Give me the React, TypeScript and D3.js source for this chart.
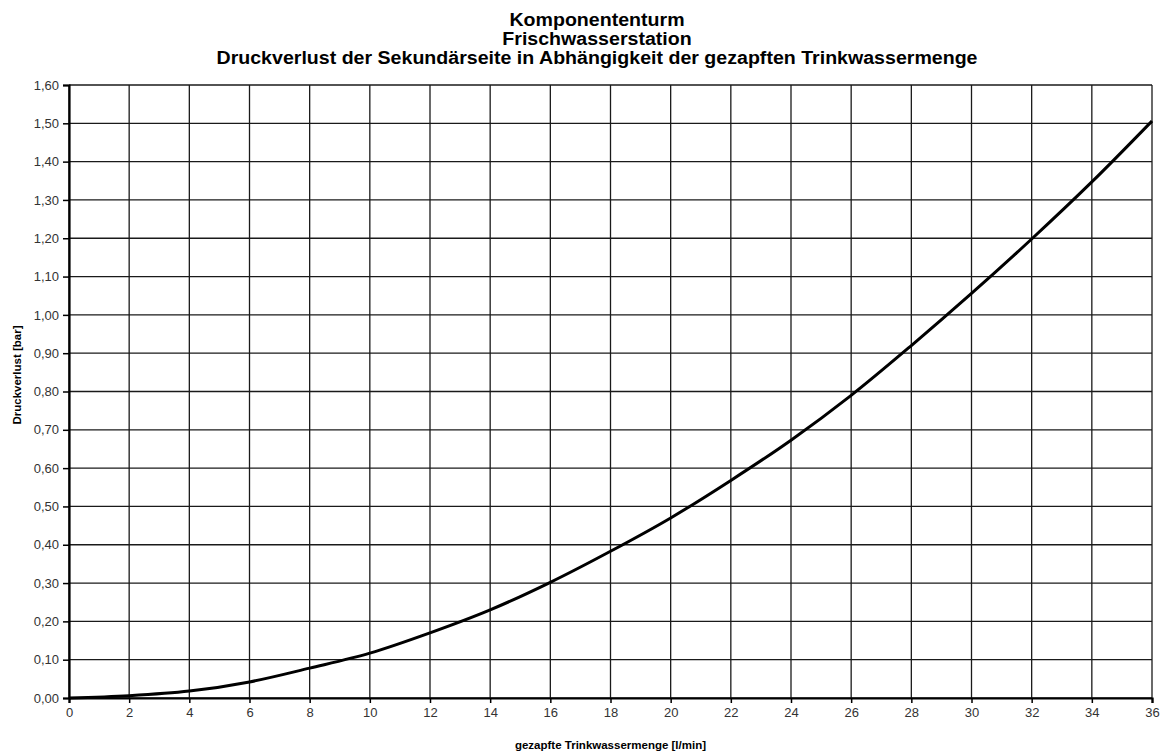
import * as d3 from "d3";
import { useEffect, useRef } from "react";

const flow = [0, 2, 4, 6, 8, 10, 12, 14, 16, 18, 20, 22, 24, 26, 28, 30, 32, 34, 36];
const loss = [0, 0.006, 0.018, 0.042, 0.078, 0.117, 0.17, 0.23, 0.302, 0.383, 0.47, 0.568, 0.673, 0.79, 0.92, 1.056, 1.198, 1.347, 1.506];
const xTicks = d3.range(0, 37, 2);
const yTicks = d3.range(0, 17).map((i) => i / 10);
const titleLines = [
  "Komponententurm",
  "Frischwasserstation",
  "Druckverlust der Sekundärseite in Abhängigkeit der gezapften Trinkwassermenge",
];

export default function App() {
  const ref = useRef<SVGSVGElement | null>(null);

  useEffect(() => {
    if (!ref.current) return;
    const svg = d3.select(ref.current);
    svg.selectAll("*").remove();

    const width = 1166;
    const height = 756;
    const margin = { top: 85, right: 14, bottom: 58, left: 69 };
    const font = "'Liberation Sans', Arial, sans-serif";
    const fmt = (v: number) => v.toFixed(2).replace(".", ",");

    const x = d3.scaleLinear().domain([0, 36]).range([margin.left, width - margin.right]);
    const y = d3.scaleLinear().domain([0, 1.6]).range([height - margin.bottom, margin.top]);

    svg.append("rect").attr("width", width).attr("height", height).attr("fill", "#fff");

    // grid
    const grid = svg.append("g").attr("stroke", "#1a1a1a").attr("stroke-width", 1.3);
    grid
      .selectAll("line.v")
      .data(xTicks)
      .join("line")
      .attr("x1", (d) => x(d))
      .attr("x2", (d) => x(d))
      .attr("y1", y(0))
      .attr("y2", y(1.6));
    grid
      .selectAll("line.h")
      .data(yTicks)
      .join("line")
      .attr("y1", (d) => y(d))
      .attr("y2", (d) => y(d))
      .attr("x1", x(0))
      .attr("x2", x(36));

    // axes
    const yAxis = svg
      .append("g")
      .attr("transform", `translate(${margin.left},0)`)
      .call(d3.axisLeft(y).tickValues(yTicks).tickFormat((d) => fmt(+d)).tickSize(6).tickPadding(4));
    const xAxis = svg
      .append("g")
      .attr("transform", `translate(0,${height - margin.bottom})`)
      .call(d3.axisBottom(x).tickValues(xTicks).tickFormat((d) => String(d)).tickSize(5).tickPadding(5));

    [yAxis, xAxis].forEach((g) => {
      g.select(".domain").attr("stroke", "#000").attr("stroke-width", 2.2);
      g.selectAll(".tick line").attr("stroke", "#000").attr("stroke-width", 1.5);
      g.selectAll(".tick text")
        .attr("fill", "#333")
        .attr("font-family", font)
        .attr("font-size", 13);
    });

    // curve
    const pts = flow.map((f, i) => [f, loss[i]] as [number, number]);
    const line = d3
      .line<[number, number]>()
      .x((d) => x(d[0]))
      .y((d) => y(d[1]))
      .curve(d3.curveMonotoneX);
    svg
      .append("path")
      .datum(pts)
      .attr("d", line)
      .attr("fill", "none")
      .attr("stroke", "#000")
      .attr("stroke-width", 3);

    // titles (slightly stretched, like the original export)
    svg
      .append("g")
      .attr("transform", "translate(597,0) scale(1.12,1)")
      .selectAll("text")
      .data(titleLines)
      .join("text")
      .attr("x", 0)
      .attr("y", (_, i) => 26 + i * 19)
      .attr("text-anchor", "middle")
      .attr("font-family", font)
      .attr("font-weight", "bold")
      .attr("font-size", 17.5)
      .attr("fill", "#000")
      .text((d) => d);

    svg
      .append("text")
      .attr("x", x(18))
      .attr("y", 749)
      .attr("text-anchor", "middle")
      .attr("font-family", font)
      .attr("font-weight", "bold")
      .attr("font-size", 11.5)
      .text("gezapfte Trinkwassermenge [l/min]");

    svg
      .append("text")
      .attr("transform", `translate(21,375) rotate(-90)`)
      .attr("text-anchor", "middle")
      .attr("font-family", font)
      .attr("font-weight", "bold")
      .attr("font-size", 11.5)
      .text("Druckverlust [bar]");
  }, []);

  return (
    <svg
      ref={ref}
      width={1166}
      height={756}
      style={{ position: "absolute", left: 0, top: 0, display: "block" }}
    />
  );
}
